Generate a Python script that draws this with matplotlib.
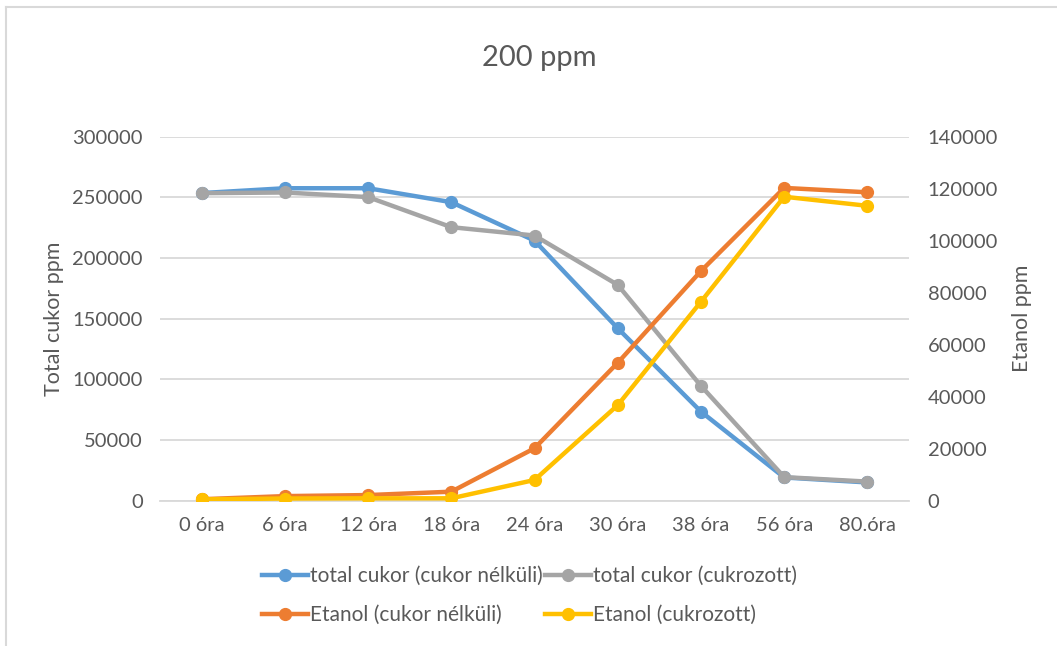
import matplotlib
matplotlib.use("Agg")
import matplotlib.pyplot as plt
from matplotlib.lines import Line2D

# Sampling times
categories = ["0 óra", "6 óra", "12 óra", "18 óra", "24 óra", "30 óra", "38 óra", "56 óra", "80.óra"]

# Total sugar (ppm), left axis
sugar_plain = [253500, 257500, 257500, 246000, 214300, 142000, 73300, 19000, 14900]
sugar_sweetened = [253400, 254000, 250200, 225400, 218500, 177800, 94500, 19300, 15600]

# Ethanol (ppm), right axis
ethanol_plain = [500, 1700, 2100, 3400, 20100, 53000, 88300, 120300, 118600]
ethanol_sweetened = [450, 770, 850, 850, 7900, 36700, 76500, 116900, 113400]

left_ticks = [0, 50000, 100000, 150000, 200000, 250000, 300000]
right_ticks = [0, 20000, 40000, 60000, 80000, 100000, 120000, 140000]

BLUE = "#5B9BD5"
GRAY = "#A5A5A5"
ORANGE = "#ED7D31"
YELLOW = "#FFC000"
TEXT = "#595959"
GRID = "#D9D9D9"

plt.rcParams["font.family"] = ["Lato", "DejaVu Sans"]

fig = plt.figure(figsize=(10.57, 6.46), dpi=100)
ax = fig.add_axes([0.1514, 0.2252, 0.7086, 0.5632])
ax2 = ax.twinx()

x = list(range(len(categories)))
lw = 3.2
ms = 8.5

l1, = ax.plot(x, sugar_plain, color=BLUE, lw=lw, marker="o", ms=ms, zorder=3,
              label="total cukor (cukor nélküli)")
l2, = ax.plot(x, sugar_sweetened, color=GRAY, lw=lw, marker="o", ms=ms, zorder=4,
              label="total cukor (cukrozott)")
l3, = ax2.plot(x, ethanol_plain, color=ORANGE, lw=lw, marker="o", ms=ms, zorder=3,
               label="Etanol (cukor nélküli)")
l4, = ax2.plot(x, ethanol_sweetened, color=YELLOW, lw=lw, marker="o", ms=ms, zorder=4,
               label="Etanol (cukrozott)")

ax.set_xlim(-0.5, len(categories) - 0.5)
ax.set_ylim(0, 300000)
ax2.set_ylim(0, 140000)
ax.set_yticks(left_ticks)
ax2.set_yticks(right_ticks)
ax.set_xticks(x)
ax.set_xticklabels(categories)

ax.grid(axis="y", color=GRID, lw=1.3)
ax.set_axisbelow(True)
for a in (ax, ax2):
    for s in a.spines.values():
        s.set_visible(False)
    a.tick_params(length=0, labelsize=14.5, labelcolor=TEXT)
ax.spines["bottom"].set_visible(True)
ax.spines["bottom"].set_color(GRID)
ax.spines["bottom"].set_linewidth(1.3)
ax.tick_params(axis="y", pad=12.5)
ax.tick_params(axis="x", pad=12)
ax2.tick_params(axis="y", pad=13.5)

ax.set_ylabel("Total cukor ppm", fontsize=15.5, color=TEXT, labelpad=6)
ax2.set_ylabel("Etanol ppm", fontsize=15.5, color=TEXT, labelpad=10)

fig.text(0.51, 0.91, "200 ppm", ha="center", va="center", fontsize=21, color=TEXT)

# Legend laid out row by row: sugar series on top, ethanol series below
fig.legend(handles=[l1, l3, l2, l4], ncol=2, loc="center", bbox_to_anchor=(0.501, 0.078),
           frameon=False, fontsize=15, labelcolor=TEXT, handlelength=2.2,
           handletextpad=0.1, columnspacing=0.15, labelspacing=0.9)

# Chart frame
fig.add_artist(Line2D([6 / 1057, 6 / 1057], [0, 1 - 7 / 646], transform=fig.transFigure,
                      color=GRID, lw=1.5))
fig.add_artist(Line2D([6 / 1057, 1], [1 - 7 / 646, 1 - 7 / 646], transform=fig.transFigure,
                      color=GRID, lw=1.5))

fig.savefig("out.png", dpi=100, facecolor="white")
